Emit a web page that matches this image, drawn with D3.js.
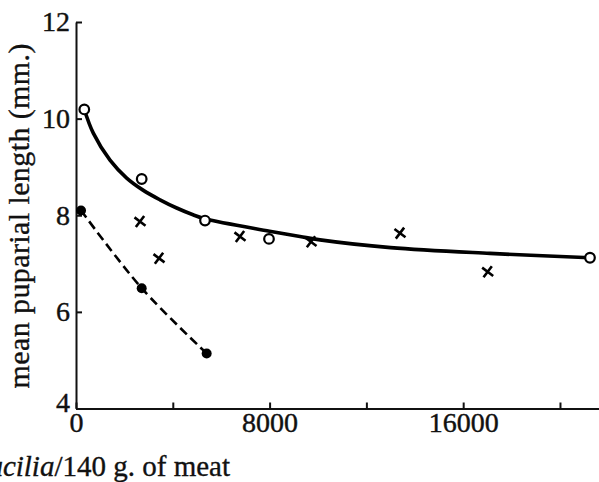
<!DOCTYPE html>
<html>
<head>
<meta charset="utf-8">
<script src="https://cdn.jsdelivr.net/npm/d3@7"></script>
<style>
  body { margin: 0; background: #fff; }
  svg { display: block; font-family: "Liberation Serif", "DejaVu Serif", serif; }
  .axis path, .axis line { stroke: #111; stroke-width: 2; }
  .axis text { font-size: 28px; fill: #111; stroke: #111; stroke-width: 0.4; font-family: "Liberation Serif", serif; }
  .title { fill: #111; stroke: #111; stroke-width: 0.35; }
</style>
</head>
<body>
<div id="chart"></div>
<script>
const width = 599;
const height = 482;

// open circles (fitted by the solid curve)
const openPts = [
  [343, 10.19], [2715, 8.75], [5331, 7.89], [7975, 7.51], [21240, 7.12]
];
// crosses
const crossPts = [
  [2645, 7.87], [3430, 7.11], [6777, 7.56], [9711, 7.45], [13388, 7.63], [17012, 6.83]
];
// filled circles (dashed line)
const filledPts = [
  [207, 8.10], [2715, 6.49], [5400, 5.14]
];
// solid curve
const solidCurve = [
  [343, 10.19], [715, 9.70], [1405, 9.14], [2095, 8.77], [2769, 8.52], [3471, 8.32],
  [4161, 8.15], [4835, 8.01], [5360, 7.92], [8000, 7.67], [9256, 7.56], [10083, 7.49],
  [13000, 7.33], [17107, 7.21], [21240, 7.12]
];

const xTicks = [0, 4000, 8000, 12000, 16000, 20000];
const xLabelled = [0, 8000, 16000];
const yTicks = [4, 6, 8, 10, 12];

const x = d3.scaleLinear().domain([0, 21600]).range([76, 598.7]);
const y = d3.scaleLinear().domain([4, 12]).range([408.5, 22]);

const svg = d3.select("#chart")
  .append("svg")
  .attr("width", width)
  .attr("height", height);

// axes, ticks pointing inward
svg.append("g")
  .attr("class", "axis")
  .attr("transform", `translate(0,${y(4)})`)
  .call(d3.axisBottom(x)
    .tickValues(xTicks)
    .tickSize(-6)
    .tickSizeOuter(0)
    .tickPadding(4)
    .tickFormat(d => xLabelled.includes(d) ? d : ""));

const yAxis = svg.append("g")
  .attr("class", "axis")
  .attr("transform", `translate(${x(0)},0)`)
  .call(d3.axisLeft(y)
    .tickValues(yTicks)
    .tickSize(-6)
    .tickSizeOuter(0)
    .tickPadding(6)
    .tickFormat(d3.format("d")));

// the "4" sits a little above the x axis
yAxis.selectAll(".tick text").filter(d => d === 4).attr("y", -6);

svg.selectAll(".axis .domain").attr("stroke-width", 2.2);

// solid curve
const smooth = d3.line()
  .x(d => x(d[0]))
  .y(d => y(d[1]))
  .curve(d3.curveCatmullRom.alpha(0.5));

svg.append("path")
  .datum(solidCurve)
  .attr("fill", "none")
  .attr("stroke", "#000")
  .attr("stroke-width", 3.6)
  .attr("stroke-linecap", "round")
  .attr("d", smooth);

// dashed curve
svg.append("path")
  .datum(filledPts)
  .attr("fill", "none")
  .attr("stroke", "#000")
  .attr("stroke-width", 2.6)
  .attr("stroke-dasharray", "9,5")
  .attr("d", smooth);

// markers
svg.selectAll(".open")
  .data(openPts)
  .enter()
  .append("circle")
  .attr("class", "open")
  .attr("cx", d => x(d[0]))
  .attr("cy", d => y(d[1]))
  .attr("r", 4.8)
  .attr("fill", "#fff")
  .attr("stroke", "#000")
  .attr("stroke-width", 2.2);

svg.selectAll(".filled")
  .data(filledPts)
  .enter()
  .append("circle")
  .attr("class", "filled")
  .attr("cx", d => x(d[0]))
  .attr("cy", d => y(d[1]))
  .attr("r", 5)
  .attr("fill", "#000");

svg.selectAll(".cross")
  .data(crossPts)
  .enter()
  .append("path")
  .attr("class", "cross")
  .attr("transform", d => `translate(${x(d[0])},${y(d[1])}) rotate(-8)`)
  .attr("d", d3.symbol(d3.symbolX, 64))
  .attr("fill", "none")
  .attr("stroke", "#000")
  .attr("stroke-width", 2.6);

// axis titles
svg.append("text")
  .attr("class", "title")
  .attr("transform", "translate(29,216) rotate(-90)")
  .attr("text-anchor", "middle")
  .attr("font-size", 30)
  .attr("textLength", 345)
  .attr("lengthAdjust", "spacing")
  .text("mean puparial length (mm.)");

const xt = svg.append("text")
  .attr("class", "title")
  .attr("x", 230)
  .attr("y", 476)
  .attr("text-anchor", "end")
  .attr("font-size", 29);
xt.append("tspan").text("No. of ");
xt.append("tspan").attr("font-style", "italic").text("Lucilia");
xt.append("tspan").text("/140 g. of meat");
</script>
</body>
</html>
